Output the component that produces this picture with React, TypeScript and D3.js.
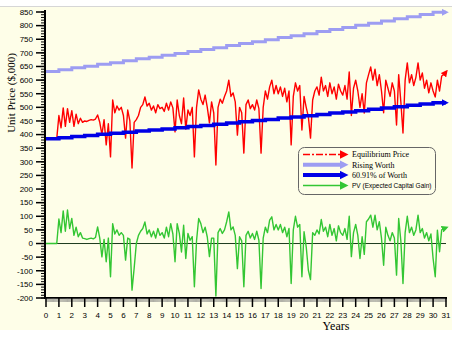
import * as d3 from "d3";

const width = 452;
const height = 337;

// property worth at the start of each year ($,000)
const worth = [
  632, 638, 645, 651, 658, 664, 671, 678, 684, 691, 698, 705, 712, 719, 727,
  734, 741, 748, 756, 763, 770, 778, 786, 793, 801, 809, 817, 825, 833, 841, 849,
];
const worthShare = 0.6091;

// equilibrium price, one value every two months (6 per year)
const eqPrice = [
  385, 385, 385, 385, 385, 385,
  470, 425, 498, 430, 495, 445,
  488, 430, 475, 440, 460, 445,
  450, 448, 452, 455, 453, 457,
  472, 445, 400, 455, 362, 440,
  318, 527, 480, 505, 490, 500,
  470, 387, 490, 450, 277, 445,
  455, 470, 500, 510, 538, 505,
  515, 490, 505, 480, 510, 495,
  500, 485, 515, 490, 520, 498,
  410, 527, 470, 440, 534, 420,
  490, 470, 500, 318, 500, 564,
  530, 510, 545, 500, 443, 520,
  480, 288, 500, 530, 515, 540,
  560, 600, 540, 553, 520, 398,
  500, 480, 332, 510, 527, 495,
  510, 490, 527, 495, 332, 500,
  560, 530, 575, 600, 550, 580,
  550, 575, 540, 570, 520, 560,
  362, 540, 590, 560, 580, 417,
  540, 500, 465, 387, 527, 560,
  575, 545, 611, 560, 580, 540,
  590, 550, 575, 530, 585, 560,
  545, 580, 530, 630, 470, 570,
  600, 560, 500, 550, 479, 590,
  620, 648, 600, 640, 580, 620,
  560, 480, 600, 570, 540, 590,
  560, 435, 620, 520, 406, 600,
  663, 590, 620, 580, 610, 663,
  600, 626, 570, 600, 553, 590,
  560, 538, 600, 560, 615, 620,
  630,
];

// PV (expected capital gain), same sampling
const pvGain = [
  0, 0, 0, 0, 0, 0,
  90, 40, 120, 45, 123, 55,
  92, 30, 60, 25, 40, 20,
  18, 15, 18, 20, 17, 22,
  61, 20, -49, 15, -67, 20,
  -122, 73, 35, 50, 30, 40,
  30, -61, 20, 15, -171, -90,
  0, 30, 45, 55, 79, 35,
  50, 25, 45, 20, 55, 30,
  40, 20, 60, 25, 73, 35,
  -67, 73, 37, -31, 67, -55,
  37, 12, 25, -159, 10, 92,
  73, 40, 60, 24, -48, 20,
  20, -193, 40, 55, 37, 50,
  80, 116, 50, 61, 30, -92,
  25, 10, -159, 30, 45, 20,
  37, 15, 45, 12, -165, 20,
  60, 40, 86, 98, 50, 70,
  50, 70, 40, 60, 25, 55,
  -147, 50, 100, 60, 70, -122,
  43, -12, -98, -132, 40, 30,
  50, 35, 88, 45, 60, 25,
  70, 30, 55, 10, 65, 40,
  30, 55, 15, 100, -48, 40,
  70, 30, -55, 25, -40, 80,
  90, 104, 60, 104, 50, 80,
  20, -80, 60, 30, 10, 40,
  20, -116, 92, 10, -147, 40,
  100, 40, 60, 30, 50, 104,
  40, 55, 20, 40, 10, 35,
  -55, -122, 49, -30, 50, 55,
  58,
];

const stepsPerYear = 6;
const lastYear = 31;
const yTicks = d3.range(-200, 851, 50);
const yMinor = d3.range(-200, 851, 10);
const xTicks = d3.range(0, lastYear + 1);
const xMinor = d3.range(0, lastYear * 12 + 1).map((m) => m / 12);

const legendItems = [
  { label: "Equilibrium Price", color: "#ff0000", width: 1.5, dash: "7 2 2 2", font: "Liberation Serif", size: 8 },
  { label: "Rising Worth", color: "#9d9df2", width: 4, dash: "", font: "Liberation Serif", size: 8 },
  { label: "60.91% of Worth", color: "#0000e6", width: 4, dash: "", font: "Liberation Serif", size: 8 },
  { label: "PV (Expected Capital Gain)", color: "#33c633", width: 1.5, dash: "", font: "Liberation Sans", size: 6.5 },
];

const x = d3.scaleLinear().domain([0, lastYear]).range([46, 446]);
const y = d3.scaleLinear().domain([-200, 850]).range([298, 12]);

type Pt = [number, number];
const line = d3
  .line<Pt>()
  .x((d) => x(d[0]))
  .y((d) => y(d[1]));
const stepLine = d3
  .line<Pt>()
  .x((d) => x(d[0]))
  .y((d) => y(d[1]))
  .curve(d3.curveStepAfter);

const sampled = (vals: number[]): Pt[] => vals.map((v, i) => [i / stepsPerYear, v]);
const yearly = (vals: number[]): Pt[] => [
  ...vals.map((v, i) => [i, v] as Pt),
  [lastYear, vals[vals.length - 1]],
];

const App = () => {
  const worthPts = yearly(worth);
  const sharePts = yearly(worth.map((w) => w * worthShare));
  const pricePts = sampled(eqPrice);
  const pvPts = sampled(pvGain);
  const sans = "Liberation Sans, Arial, sans-serif";
  const serif = "Liberation Serif, Times New Roman, serif";

  return (
    <svg
      width={width}
      height={height}
      style={{ position: "absolute", left: 0, top: 0 }}
    >
      <defs>
        {legendItems.map((d, i) => (
          <marker
            key={i}
            id={`arrow${i}`}
            viewBox="0 0 10 10"
            refX={6}
            refY={5}
            markerWidth={7}
            markerHeight={7}
            markerUnits="userSpaceOnUse"
            orient="auto"
          >
            <path d="M0,0 L10,5 L0,10 z" fill={d.color} />
          </marker>
        ))}
        {legendItems.map((d, i) => (
          <marker
            key={i}
            id={`bigArrow${i}`}
            viewBox="0 0 10 10"
            refX={5}
            refY={5}
            markerWidth={9}
            markerHeight={9}
            markerUnits="userSpaceOnUse"
            orient="auto"
          >
            <path d="M0,0 L10,5 L0,10 z" fill={d.color} />
          </marker>
        ))}
      </defs>

      <rect x={0} y={0} width={width} height={height} fill="#ffffff" />
      <rect x={0} y={6} width={width} height={324} fill="#fefee8" />
      <line x1={0} x2={width} y1={6.5} y2={6.5} stroke="#d6d6d6" />

      {/* data series */}
      <path
        d={stepLine(worthPts) ?? undefined}
        fill="none"
        stroke={legendItems[1].color}
        strokeWidth={3}
        markerEnd="url(#arrow1)"
      />
      <path
        d={line(pricePts) ?? undefined}
        fill="none"
        stroke={legendItems[0].color}
        strokeWidth={1.4}
        strokeLinejoin="round"
        markerEnd="url(#arrow0)"
      />
      <path
        d={stepLine(sharePts) ?? undefined}
        fill="none"
        stroke={legendItems[2].color}
        strokeWidth={3.5}
        markerEnd="url(#arrow2)"
      />
      <line x1={x(0)} x2={x(lastYear)} y1={y(0)} y2={y(0)} stroke="#1d3a1d" strokeWidth={1} />
      <path
        d={line(pvPts) ?? undefined}
        fill="none"
        stroke={legendItems[3].color}
        strokeWidth={1.4}
        strokeLinejoin="round"
        markerEnd="url(#arrow3)"
      />

      {/* y axis */}
      <line x1={45} x2={45} y1={y(850) - 2} y2={y(-200)} stroke="#000" strokeWidth={2} />
      {yMinor.map((v) => (
        <line key={v} x1={41} x2={45} y1={y(v)} y2={y(v)} stroke="#000" strokeWidth={1} />
      ))}
      {yTicks.map((v) => (
        <g key={v}>
          <line x1={36} x2={45} y1={y(v)} y2={y(v)} stroke="#000" strokeWidth={1.5} />
          <text
            x={33}
            y={y(v)}
            dy="0.35em"
            textAnchor="end"
            fontFamily={sans}
            fontSize={8}
            fill="#000"
          >
            {v}
          </text>
        </g>
      ))}
      <text
        transform={`translate(15, 93) rotate(-90)`}
        textAnchor="middle"
        fontFamily={serif}
        fontSize={11}
        fill="#000"
      >
        Unit Price ($,000)
      </text>

      {/* x axis */}
      <line x1={44} x2={x(lastYear) + 1} y1={298} y2={298} stroke="#000" strokeWidth={2} />
      {xMinor.map((v, i) => (
        <line key={i} x1={x(v)} x2={x(v)} y1={298} y2={302} stroke="#777" strokeWidth={0.6} />
      ))}
      {xTicks.map((v) => (
        <g key={v}>
          <line x1={x(v)} x2={x(v)} y1={298} y2={307} stroke="#000" strokeWidth={1.5} />
          <text
            x={x(v)}
            y={318}
            textAnchor="middle"
            fontFamily={sans}
            fontSize={8}
            fill="#000"
          >
            {v}
          </text>
        </g>
      ))}
      <text x={336} y={330} textAnchor="middle" fontFamily={serif} fontSize={12} fill="#000">
        Years
      </text>

      {/* legend */}
      <rect
        x={298.5}
        y={147.5}
        width={137}
        height={47}
        rx={6}
        fill="none"
        stroke="#666"
        strokeWidth={1}
      />
      {legendItems.map((d, i) => {
        const ly = 154.5 + i * 10.3;
        return (
          <g key={i}>
            <line
              x1={303}
              x2={344}
              y1={ly}
              y2={ly}
              stroke={d.color}
              strokeWidth={d.width}
              strokeDasharray={d.dash || undefined}
              markerEnd={`url(#bigArrow${i})`}
            />
            <text
              x={352}
              y={ly}
              dy="0.35em"
              fontFamily={d.font === "Liberation Sans" ? sans : serif}
              fontSize={d.size}
              fill="#000"
            >
              {d.label}
            </text>
          </g>
        );
      })}
    </svg>
  );
};

export default App;
